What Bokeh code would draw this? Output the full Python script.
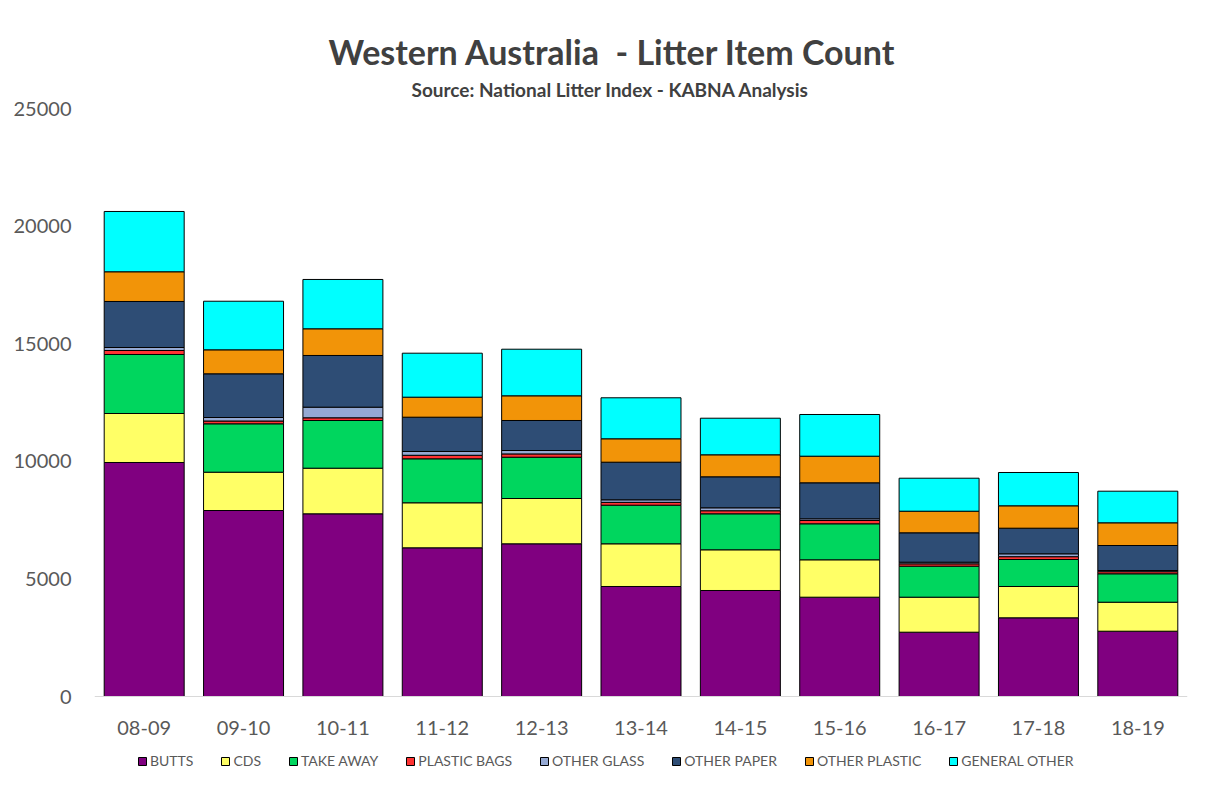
from bokeh.plotting import figure
from bokeh.models import ColumnDataSource, Legend, LegendItem, Title, Span
from bokeh.embed import file_html
from bokeh.resources import INLINE
from bokeh.core.properties import value

years = ["08-09", "09-10", "10-11", "11-12", "12-13", "13-14", "14-15", "15-16", "16-17", "17-18", "18-19"]
butts = [9949, 7908, 7768, 6322, 6492, 4677, 4507, 4222, 2734, 3346, 2776]
cds = [2083, 1629, 1939, 1914, 1926, 1815, 1730, 1590, 1488, 1331, 1233]
take_away = [2509, 2057, 2028, 1870, 1756, 1642, 1531, 1531, 1318, 1148, 1208]
plastic_bags = [170, 119, 115, 150, 140, 120, 130, 140, 100, 120, 90]
other_glass = [128, 149, 451, 161, 145, 109, 125, 72, 70, 122, 50]
other_paper = [1956, 1858, 2198, 1458, 1276, 1599, 1318, 1531, 1250, 1089, 1063]
other_plastic = [1263, 1020, 1135, 851, 1050, 995, 935, 1131, 918, 952, 965]
general_other = [2564, 2066, 2097, 1870, 1981, 1743, 1556, 1773, 1403, 1416, 1344]

series_keys = ["butts", "cds", "take_away", "plastic_bags", "other_glass",
               "other_paper", "other_plastic", "general_other"]
series_labels = ["BUTTS", "CDS", "TAKE AWAY", "PLASTIC BAGS", "OTHER GLASS",
                 "OTHER PAPER", "OTHER PLASTIC", "GENERAL OTHER"]
colors = ["#800080", "#FFFF66", "#00D65E", "#FF3333", "#95A9D3",
          "#2E4D75", "#F29408", "#00FFFF"]

source = ColumnDataSource(dict(
    years=years, butts=butts, cds=cds, take_away=take_away,
    plastic_bags=plastic_bags, other_glass=other_glass, other_paper=other_paper,
    other_plastic=other_plastic, general_other=general_other))

FONT = "Lato"
TXT = "#595959"

# the frame reaches below zero so that category labels and legend sit inside it
Y_BOTTOM = -3571.4
LABEL_Y = -1318

p = figure(x_range=years, y_range=(Y_BOTTOM, 25000), frame_width=1093, frame_height=672,
           output_backend="svg", toolbar_location=None,
           min_border_left=94, min_border_right=13, min_border_top=108,
           min_border_bottom=7)
p.background_fill_color = "white"
p.border_fill_color = "white"
p.outline_line_color = None
p.xgrid.visible = False
p.ygrid.visible = False

renderers = p.vbar_stack(series_keys, x="years", width=0.805, source=source,
                         fill_color=colors, line_color="black", line_width=1)

# baseline (category axis line)
p.add_layout(Span(location=0, dimension="width", line_color="#D9D9D9", line_width=1))

# category labels
p.text(x=years, y=[LABEL_Y] * len(years), text=years,
       text_font=value(FONT), text_font_size="20px", text_color=TXT,
       text_align="center", text_baseline="middle")

# axes
p.xaxis.visible = False
p.yaxis.ticker = [0, 5000, 10000, 15000, 20000, 25000]
p.yaxis.axis_line_color = None
p.yaxis.major_tick_line_color = None
p.yaxis.minor_tick_line_color = None
p.yaxis.major_label_standoff = 17
p.yaxis.major_label_text_font = FONT
p.yaxis.major_label_text_font_size = "20px"
p.yaxis.major_label_text_color = TXT

# titles (subtitle first: it sits closest to the plot)
p.add_layout(Title(text="Source: National Litter Index - KABNA Analysis",
                   align="left", offset=317, standoff=15,
                   text_font=FONT, text_font_style="bold",
                   text_font_size="19px", text_color="#404040"), "above")
p.add_layout(Title(text="Western Australia\u00a0\u00a0- Litter Item Count",
                   align="left", offset=234, standoff=-7,
                   text_font=FONT, text_font_style="bold",
                   text_font_size="34px", text_color="#404040"), "above")

legend = Legend(items=[LegendItem(label=lab, renderers=[r])
                       for lab, r in zip(series_labels, renderers)],
                orientation="horizontal", location=(43, 11),
                background_fill_alpha=0, border_line_color=None,
                label_text_font=FONT, label_text_font_size="14px",
                label_text_color=TXT, glyph_width=10, glyph_height=10,
                label_standoff=3, spacing=27, padding=0, margin=0,
                label_height=16)
p.add_layout(legend)

open("out.html", "w").write(file_html(p, INLINE))
